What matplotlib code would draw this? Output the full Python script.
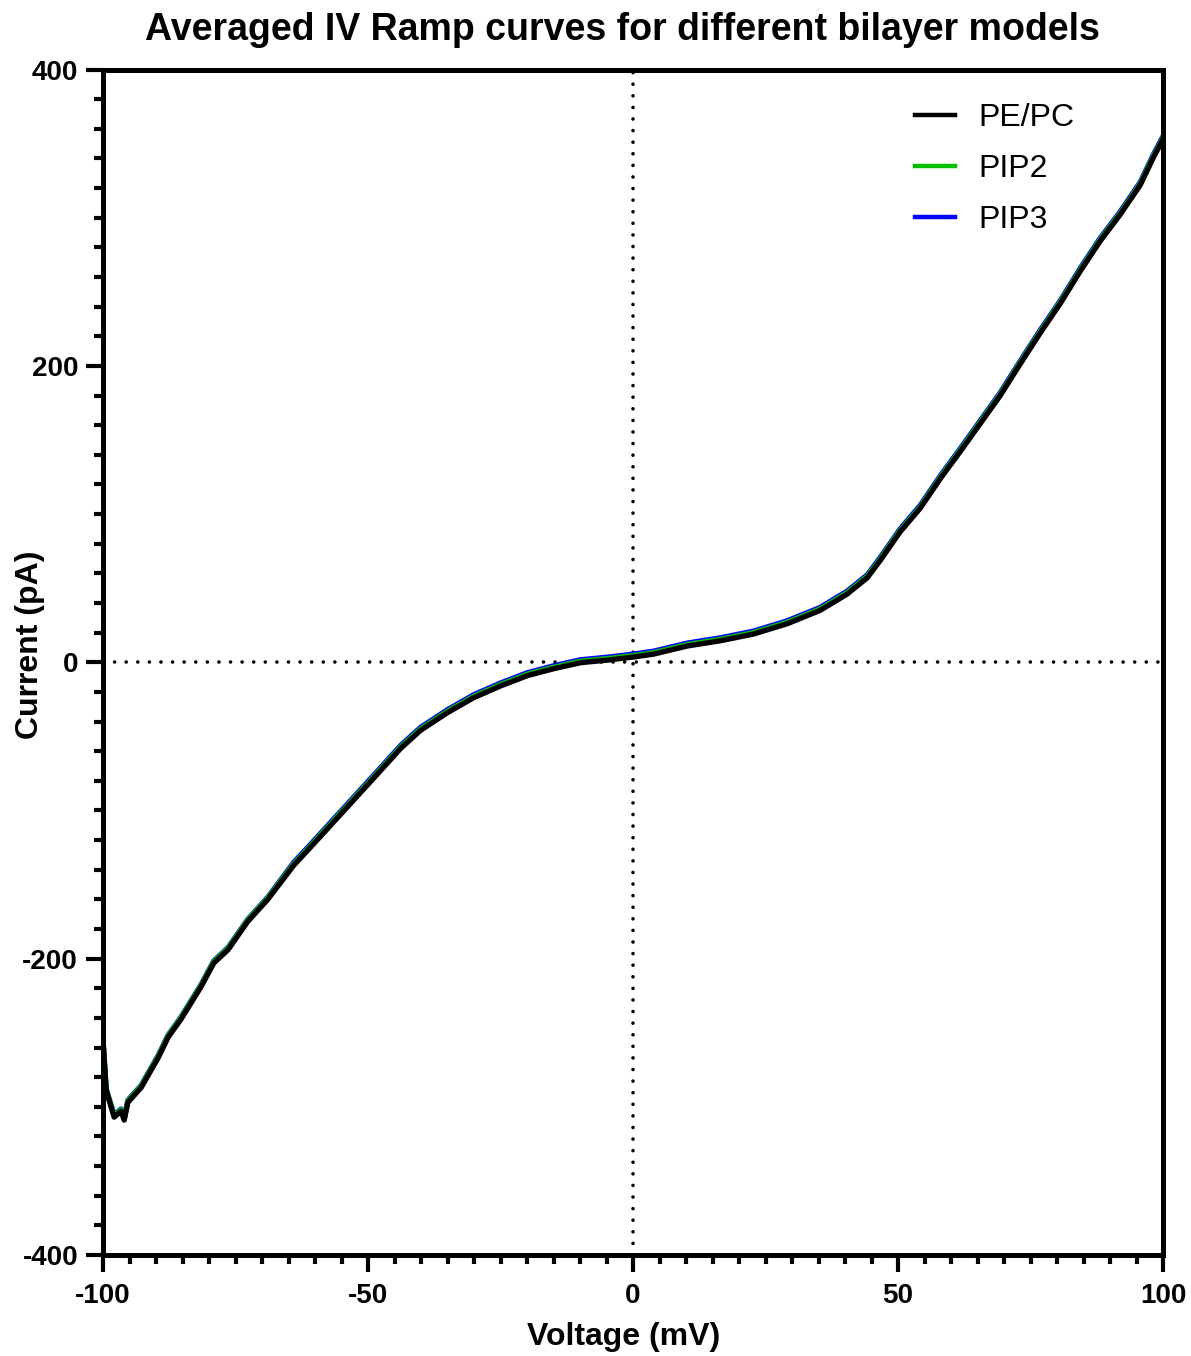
import numpy as np
import matplotlib.pyplot as plt
from matplotlib.ticker import MultipleLocator

# values
voltage = [-100, -99.4, -97.9, -96.6, -96.0, -95.3, -92.8, -89.6, -87.7, -85.3,
           -81.5, -79.1, -76.4, -72.7, -68.9, -64.0, -61.4, -55.0, -47.6, -43.8,
           -40.1, -35.0, -30.1, -25.0, -19.9, -15.0, -9.9, -4.7, 0.0, 3.9,
           10.3, 16.5, 22.7, 29.1, 35.3, 40.4, 44.2, 46.7, 50.4, 54.2,
           58.0, 61.7, 65.5, 69.3, 73.0, 76.8, 80.6, 84.4, 88.1, 91.9,
           95.7, 98.1, 100]
pe_pc = [-255, -289, -307, -303, -309, -297, -287, -267, -253, -241,
         -219, -203, -194, -175, -160, -137, -127, -102, -73, -58,
         -46, -34, -24, -16, -9, -4.4, -0.3, 1.5, 3.5, 5.5,
         11, 14.5, 19, 26, 35, 46, 57, 69, 88, 104,
         124, 142, 161, 180, 201, 222, 242, 264, 284, 302,
         322, 340, 353]
pip2 = [-255, -288.5, -306, -302, -308, -296, -286, -266, -252, -240,
        -218, -202, -193, -174, -159, -136, -126, -101, -72, -57,
        -45, -33, -23, -15, -8, -3.4, 0.7, 2.5, 4.5, 6.5,
        12, 15.5, 20, 27, 36, 47, 58, 70, 89, 105,
        125, 143, 162, 181, 202, 223, 243, 265, 285, 303,
        323, 341, 354]
pip3 = [-255, -288, -305.5, -301.5, -307.5, -295.5, -285.5, -265.5, -251.5, -239.5,
        -217.5, -201.5, -192.5, -173.5, -158.5, -135, -125, -100, -71, -56,
        -44, -32, -22, -14, -7, -2.4, 1.7, 3.5, 5.5, 7.5,
        13, 16.5, 21, 28, 37, 48, 59, 71, 90, 106,
        126, 144, 163, 182, 203, 224, 244, 266, 286, 304,
        324, 342, 355]

labels = ["PE/PC", "PIP2", "PIP3"]
colors = ["black", "#00bf00", "#0000ff"]

plt.rcParams['font.family'] = ['Liberation Sans', 'DejaVu Sans']
plt.rcParams['axes.unicode_minus'] = False

fig = plt.figure(figsize=(11.91, 13.56), dpi=100)
ax = fig.add_axes([0.0865, 0.0745, 0.89, 0.8742])

# draw back to front so black sits on top
for v, c, l in zip((pip3, pip2, pe_pc), colors[::-1], labels[::-1]):
    ax.plot(voltage, v, color=c, lw=3.8, label=l, solid_joinstyle="round")

ax.axhline(0, color="black", lw=2.6, ls=(0, (0.01, 3.2)), dash_capstyle="round", zorder=0)
ax.axvline(0, color="black", lw=2.6, ls=(0, (0.01, 3.2)), dash_capstyle="round", zorder=0)

ax.set_xlim(-100, 100)
ax.set_ylim(-400, 400)
ax.xaxis.set_major_locator(MultipleLocator(50))
ax.xaxis.set_minor_locator(MultipleLocator(5))
ax.yaxis.set_major_locator(MultipleLocator(200))
ax.yaxis.set_minor_locator(MultipleLocator(20))

for s in ax.spines.values():
    s.set_linewidth(3.6)
ax.tick_params(which="major", length=12, width=3, labelsize=20, pad=6)
ax.tick_params(which="minor", length=6.5, width=3)
ax.tick_params(axis="x", which="major", pad=8)
for t in ax.get_xticklabels() + ax.get_yticklabels():
    t.set_fontweight("bold")

ax.set_xlabel("Voltage (mV)", fontsize=23, fontweight="bold")
ax.set_ylabel("Current (pA)", fontsize=23, fontweight="bold")
ax.xaxis.set_label_coords(0.4915, -0.0565)
ax.yaxis.set_label_coords(-0.055, 0.515)

fig.text(622 / 1191, 1 - 30 / 1356, "Averaged IV Ramp curves for different bilayer models",
         ha="center", va="center", fontsize=27, fontweight="bold")

h, l = ax.get_legend_handles_labels()
leg = ax.legend(h[::-1], l[::-1], loc="upper right", frameon=False, fontsize=23,
                handlelength=1.25, handletextpad=0.75, labelspacing=0.66,
                bbox_to_anchor=(0.944, 0.996))
for line in leg.get_lines():
    line.set_linewidth(3.2)

fig.savefig("out.png", dpi=100)
